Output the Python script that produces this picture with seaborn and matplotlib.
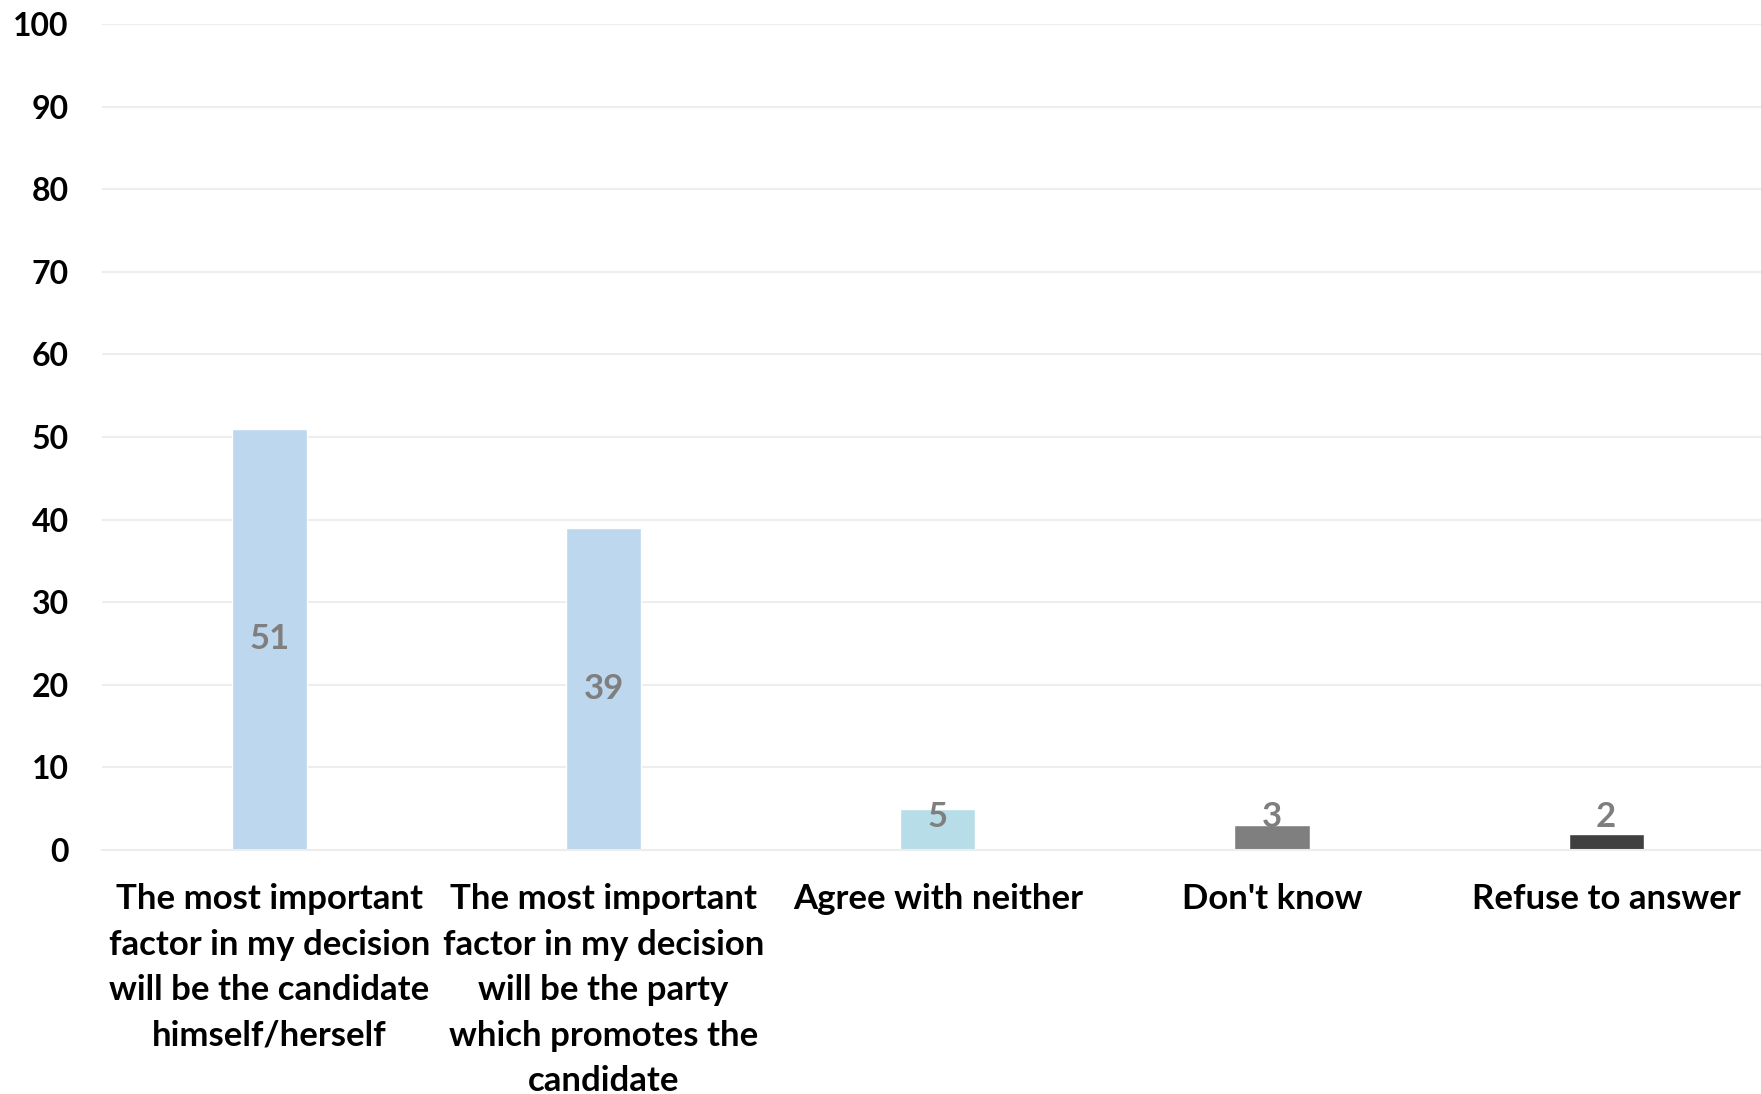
import matplotlib
matplotlib.use('Agg')
import pandas as pd
import seaborn as sns
import matplotlib.pyplot as plt

categories = [
    "The most important\nfactor in my decision\nwill be the candidate\nhimself/herself",
    "The most important\nfactor in my decision\nwill be the party\nwhich promotes the\ncandidate",
    "Agree with neither",
    "Don't know",
    "Refuse to answer",
]
values = [51, 39, 5, 3, 2]
colors = ["#BDD7EE", "#BDD7EE", "#B7DEE8", "#7F7F7F", "#404040"]
y_ticks = list(range(0, 101, 10))

sns.set_theme(style="white")
plt.rcParams['font.family'] = ['Lato', 'DejaVu Sans']
plt.rcParams['font.weight'] = 'bold'

df = pd.DataFrame({'category': categories, 'value': values})

fig = plt.figure(figsize=(17.61, 10.94), dpi=100)
# right edge runs slightly past the figure, as in the original
ax = fig.add_axes([0.058, 0.223, 0.949, 0.755])
sns.barplot(data=df, x='category', y='value', hue='category', palette=colors,
            width=0.225, legend=False, ax=ax, saturation=1)

for i, v in enumerate(values):
    ax.text(i, max(v / 2, 4), str(v), ha='center', va='center',
            fontsize=25, fontweight='bold', color='#7F7F7F')

ax.set_ylim(0, 100)
ax.set_xlim(-0.5, 4.5)
ax.set_yticks(y_ticks)
ax.yaxis.grid(True, color='#EDEDED', linewidth=1.5)
ax.set_axisbelow(True)
for s in ['top', 'right', 'left']:
    ax.spines[s].set_visible(False)
ax.spines['bottom'].set_color('#EDEDED')
ax.spines['bottom'].set_linewidth(1.5)
ax.set_xlabel('')
ax.set_ylabel('')
ax.tick_params(axis='y', length=0, pad=24, labelsize=23, labelcolor='black')
ax.tick_params(axis='x', length=0, pad=24, labelsize=25, labelcolor='black')
for lbl in ax.get_xticklabels() + ax.get_yticklabels():
    lbl.set_fontweight('bold')
for lbl in ax.get_xticklabels():
    lbl.set_linespacing(1.52)

fig.savefig('out.png', dpi=100)
